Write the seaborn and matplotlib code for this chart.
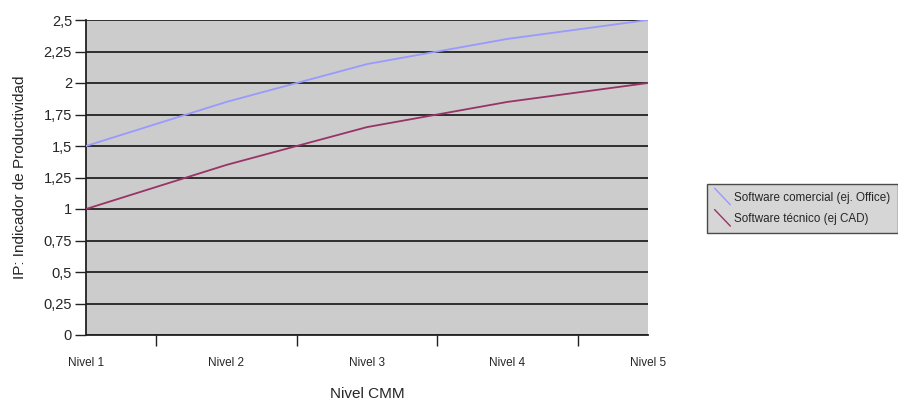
import matplotlib
matplotlib.use("Agg")
import matplotlib.pyplot as plt
from matplotlib.legend_handler import HandlerLine2D
from matplotlib.lines import Line2D
import seaborn as sns
import pandas as pd

# Data
niveles = ["Nivel 1", "Nivel 2", "Nivel 3", "Nivel 4", "Nivel 5"]
comercial = [1.5, 1.85, 2.15, 2.35, 2.5]
tecnico = [1.0, 1.35, 1.65, 1.85, 2.0]
series_names = ["Software comercial (ej. Office)", "Software técnico (ej CAD)"]
y_ticks = [0, 0.25, 0.5, 0.75, 1, 1.25, 1.5, 1.75, 2, 2.25, 2.5]
y_tick_labels = ["0", "0,25", "0,5", "0,75", "1", "1,25", "1,5", "1,75", "2", "2,25", "2,5"]

df = pd.DataFrame({
    "pos": list(range(len(niveles))) * 2,
    "IP": comercial + tecnico,
    "serie": [series_names[0]] * len(niveles) + [series_names[1]] * len(niveles),
})

sns.set_style("white")
plt.rcParams["font.family"] = ["Liberation Sans", "DejaVu Sans"]

fig = plt.figure(figsize=(8.98, 4.01), dpi=100)
ax = fig.add_axes([86 / 898, 1 - 335 / 401, (648 - 86) / 898, (335 - 20) / 401])
ax.set_facecolor("#cccccc")

palette = {series_names[0]: "#9999ff", series_names[1]: "#993366"}
sns.lineplot(data=df, x="pos", y="IP", hue="serie", palette=palette,
             sort=False, linewidth=1.3, ax=ax, legend=False, zorder=3)

ax.set_xlim(0, len(niveles) - 1)
ax.set_ylim(0, 2.5)

# y axis
ax.set_yticks(y_ticks)
ax.set_yticklabels(y_tick_labels, fontsize=10.5)
ax.yaxis.grid(True, color="#222222", linewidth=1.3, zorder=1)
ax.set_axisbelow(True)
ax.tick_params(axis="y", which="major", length=8, width=1, color="#222222", pad=2, left=True)

# x axis: tick marks between categories, labels on categories
ax.set_xticks([i + 0.5 for i in range(len(niveles) - 1)])
ax.set_xticklabels([])
ax.set_xticks(list(range(len(niveles))), minor=True)
ax.set_xticklabels(niveles, minor=True, fontsize=8.5)
ax.tick_params(axis="x", which="major", length=8, width=1, color="#222222", bottom=True, direction="out")
ax.tick_params(axis="x", which="minor", length=0, pad=16)

for side in ["top", "right"]:
    ax.spines[side].set_visible(False)
for side in ["left", "bottom"]:
    ax.spines[side].set_color("#222222")
    ax.spines[side].set_linewidth(1.3)

ax.set_xlabel("Nivel CMM", fontsize=11, labelpad=13)
ax.set_ylabel("IP: Indicador de Productividad", fontsize=11, labelpad=12)


class DiagonalHandler(HandlerLine2D):
    def create_artists(self, legend, orig_handle, xdescent, ydescent,
                       width, height, fontsize, trans):
        line = Line2D([-xdescent, -xdescent + width],
                      [height - ydescent + 3, -ydescent - 3])
        self.update_prop(line, orig_handle, legend)
        line.set_transform(trans)
        return [line]


handles = [Line2D([], [], color=palette[n], linewidth=1) for n in series_names]
leg = fig.legend(handles, series_names, loc="upper left",
                 bbox_to_anchor=(707 / 898, 1 - 184 / 401),
                 fontsize=8.4, frameon=True, fancybox=False,
                 handlelength=1.35, handletextpad=0.35, borderpad=0.65,
                 labelspacing=0.8, borderaxespad=0,
                 handler_map={Line2D: DiagonalHandler()})
leg.get_frame().set_facecolor("#cccccc")
leg.get_frame().set_edgecolor("#222222")
leg.get_frame().set_linewidth(1.0)

fig.savefig("out.png", dpi=100)
